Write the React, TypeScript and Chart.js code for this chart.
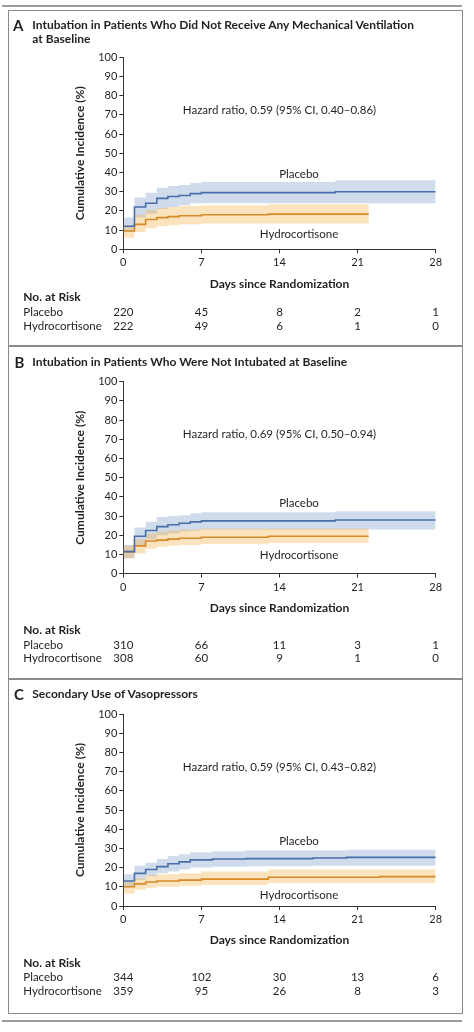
import React, { useEffect, useRef } from "react";
import { Chart, registerables } from "chart.js";

Chart.register(...registerables);

const FONT = "Lato, 'Open Sans', sans-serif";
const TEXT = "#231f20";
const AXIS = "#333333";
const PLACEBO_LINE = "#4a6fa8";
const PLACEBO_BAND = "rgba(110,145,195,0.32)";
const HYDRO_LINE = "#d68a28";
const HYDRO_BAND = "rgba(243,172,62,0.34)";

// ---------- shared axis data ----------
const dayTicks = [0, 7, 14, 21, 28];
const riskLabels = ["Placebo", "Hydrocortisone"];

// ---------- Panel A ----------
const aTitle = ["Intubation in Patients Who Did Not Receive Any Mechanical Ventilation", "at Baseline"];
const aHazard = "Hazard ratio, 0.59 (95% CI, 0.40\u20130.86)";
const aPlaceboDays = [0, 1, 2, 3, 4, 5, 6, 7, 19, 28];
const aPlaceboRate = [12, 22, 24, 26.5, 27.5, 28, 29, 29.5, 30, 30];
const aPlaceboUpper = [16.5, 27, 29.5, 32, 33, 33.5, 34.5, 35, 36, 36];
const aPlaceboLower = [9, 16.5, 18.5, 21, 22, 23, 24, 24, 24, 24];
const aHydroDays = [0, 1, 2, 3, 4, 5, 7, 13, 22];
const aHydroRate = [9.5, 13, 15.5, 16.5, 17, 17.5, 18, 18.3, 18.3];
const aHydroUpper = [12.5, 18, 20.5, 21.5, 22, 22.5, 23, 23.5, 23.5];
const aHydroLower = [6, 9, 11, 12, 12.5, 13, 13.5, 13.5, 13.5];
const aRiskPlacebo = [220, 45, 8, 2, 1];
const aRiskHydro = [222, 49, 6, 1, 0];

// ---------- Panel B ----------
const bTitle = ["Intubation in Patients Who Were Not Intubated at Baseline"];
const bHazard = "Hazard ratio, 0.69 (95% CI, 0.50\u20130.94)";
const bPlaceboDays = [0, 1, 2, 3, 4, 5, 6, 7, 19, 28];
const bPlaceboRate = [11.5, 19.5, 22.5, 24.5, 25.5, 26.3, 27, 27.5, 28, 28];
const bPlaceboUpper = [15, 24, 27, 29.5, 30, 30.5, 31.5, 32, 32.5, 32.5];
const bPlaceboLower = [8, 15, 18, 20, 21, 22, 22.5, 23, 23, 23];
const bHydroDays = [0, 1, 2, 3, 4, 5, 7, 13, 22];
const bHydroRate = [11.5, 14.5, 17, 17.5, 18, 18.5, 19, 19.5, 19.5];
const bHydroUpper = [14.5, 18, 21, 22, 22.5, 23, 23.5, 23.5, 23.5];
const bHydroLower = [8, 10.5, 13, 14, 14.5, 15, 15.5, 16, 16];
const bRiskPlacebo = [310, 66, 11, 3, 1];
const bRiskHydro = [308, 60, 9, 1, 0];

// ---------- Panel C ----------
const cTitle = ["Secondary Use of Vasopressors"];
const cHazard = "Hazard ratio, 0.59 (95% CI, 0.43\u20130.82)";
const cPlaceboDays = [0, 1, 2, 3, 4, 5, 6, 8, 11, 17, 20, 28];
const cPlaceboRate = [13, 17, 19, 20.5, 22, 23, 24, 24.5, 24.7, 25, 25.3, 25.3];
const cPlaceboUpper = [16.5, 21, 22.5, 24.5, 26, 27, 28, 28.5, 29, 29, 29.3, 29.3];
const cPlaceboLower = [10, 13.5, 15.5, 17, 18, 19, 20, 20.5, 20.7, 21, 21, 21];
const cHydroDays = [0, 1, 2, 3, 5, 7, 13, 23, 28];
const cHydroRate = [10, 11.5, 12.5, 13, 13.5, 14, 15, 15.3, 15.3];
const cHydroUpper = [12.5, 14.5, 16, 16.5, 17, 18, 19, 19, 19];
const cHydroLower = [6.5, 8.5, 9.5, 10, 10.5, 11, 12, 12, 12];
const cRiskPlacebo = [344, 102, 30, 13, 6];
const cRiskHydro = [359, 95, 26, 8, 3];

type Series = { days: number[]; rate: number[]; upper: number[]; lower: number[] };
type Panel = {
  letter: string;
  title: string[];
  hazard: string;
  placebo: Series;
  hydro: Series;
  riskPlacebo: number[];
  riskHydro: number[];
  // label anchor positions in data units (day, %)
  hazardAt: [number, number];
  placeboAt: [number, number];
  hydroAt: [number, number];
  // layout (page px)
  top: number;
  height: number;
  titleY: number;
  letterX: number;
  plotTop: number;
  plotBottom: number;
  xTitleY: number;
  riskY: [number, number, number];
};

const panels: Panel[] = [
  {
    letter: "A",
    title: aTitle,
    hazard: aHazard,
    placebo: { days: aPlaceboDays, rate: aPlaceboRate, upper: aPlaceboUpper, lower: aPlaceboLower },
    hydro: { days: aHydroDays, rate: aHydroRate, upper: aHydroUpper, lower: aHydroLower },
    riskPlacebo: aRiskPlacebo,
    riskHydro: aRiskHydro,
    hazardAt: [14, 72.5],
    placeboAt: [15.75, 39.2],
    hydroAt: [15.75, 8],
    top: 0,
    height: 340,
    titleY: 25,
    letterX: 13,
    plotTop: 57.3,
    plotBottom: 249.3,
    xTitleY: 284,
    riskY: [297.3, 312.3, 326],
  },
  {
    letter: "B",
    title: bTitle,
    hazard: bHazard,
    placebo: { days: bPlaceboDays, rate: bPlaceboRate, upper: bPlaceboUpper, lower: bPlaceboLower },
    hydro: { days: bHydroDays, rate: bHydroRate, upper: bHydroUpper, lower: bHydroLower },
    riskPlacebo: bRiskPlacebo,
    riskHydro: bRiskHydro,
    hazardAt: [14, 72.6],
    placeboAt: [15.75, 36.7],
    hydroAt: [15.75, 9.7],
    top: 340,
    height: 338,
    titleY: 361.7,
    letterX: 14.5,
    plotTop: 381.7,
    plotBottom: 573.7,
    xTitleY: 607.7,
    riskY: [630, 645, 658.3],
  },
  {
    letter: "C",
    title: cTitle,
    hazard: cHazard,
    placebo: { days: cPlaceboDays, rate: cPlaceboRate, upper: cPlaceboUpper, lower: cPlaceboLower },
    hydro: { days: cHydroDays, rate: cHydroRate, upper: cHydroUpper, lower: cHydroLower },
    riskPlacebo: cRiskPlacebo,
    riskHydro: cRiskHydro,
    hazardAt: [14, 72.5],
    placeboAt: [15.75, 33.5],
    hydroAt: [15.75, 5.6],
    top: 678,
    height: 354,
    titleY: 694,
    letterX: 14,
    plotTop: 714,
    plotBottom: 906,
    xTitleY: 940,
    riskY: [962.7, 977.3, 991],
  },
];

const PLOT_LEFT = 123.3;
const PLOT_RIGHT = 435.7;
const Y_TITLE_X = 80;
const TITLE_FONT = 12;
const TITLE_LH = TITLE_FONT * 1.2;

function pts(days: number[], vals: number[]) {
  return days.map((d, i) => ({ x: d, y: vals[i] }));
}

function makeTextPlugin(p: Panel) {
  return {
    id: "kmText" + p.letter,
    afterDraw(chart: any) {
      const { ctx } = chart;
      const xs = chart.scales.x;
      const ys = chart.scales.y;
      const off = p.top;
      ctx.save();
      ctx.fillStyle = TEXT;
      ctx.textBaseline = "middle";
      ctx.textAlign = "center";
      ctx.font = `11.5px ${FONT}`;
      ctx.fillText(p.hazard, xs.getPixelForValue(p.hazardAt[0]), ys.getPixelForValue(p.hazardAt[1]));
      ctx.fillText("Placebo", xs.getPixelForValue(p.placeboAt[0]), ys.getPixelForValue(p.placeboAt[1]));
      ctx.fillText("Hydrocortisone", xs.getPixelForValue(p.hydroAt[0]), ys.getPixelForValue(p.hydroAt[1]));

      // at-risk table
      ctx.textAlign = "left";
      ctx.font = `bold 12px ${FONT}`;
      ctx.fillText("No. at Risk", 23.3, p.riskY[0] - off);
      ctx.font = `11.5px ${FONT}`;
      ctx.fillText(riskLabels[0], 23.3, p.riskY[1] - off);
      ctx.fillText(riskLabels[1], 23.3, p.riskY[2] - off);
      ctx.textAlign = "center";
      dayTicks.forEach((d, i) => {
        const x = xs.getPixelForValue(d);
        ctx.fillText(String(p.riskPlacebo[i]), x, p.riskY[1] - off);
        ctx.fillText(String(p.riskHydro[i]), x, p.riskY[2] - off);
      });
      ctx.restore();
    },
  };
}

function KMPanel({ p }: { p: Panel }) {
  const ref = useRef<HTMLCanvasElement | null>(null);
  useEffect(() => {
    if (!ref.current) return;
    const yWidth = PLOT_LEFT - (Y_TITLE_X - TITLE_LH / 2);
    const padLeft = PLOT_LEFT - yWidth;
    const xBottom = p.xTitleY + TITLE_LH / 2;
    const xHeight = xBottom - p.plotBottom;
    const padBottom = p.top + p.height - xBottom;
    const line = (s: Series, color: string, label: string) => ({
      label,
      data: pts(s.days, s.rate),
      borderColor: color,
      borderWidth: 1.6,
      pointRadius: 0,
      stepped: "before" as const,
      fill: false,
      order: 0,
    });
    const band = (s: Series, color: string, label: string, order: number) => [
      {
        label: label + " upper",
        data: pts(s.days, s.upper),
        borderWidth: 0,
        borderColor: "rgba(0,0,0,0)",
        backgroundColor: color,
        pointRadius: 0,
        stepped: "before" as const,
        fill: "+1",
        order,
      },
      {
        label: label + " lower",
        data: pts(s.days, s.lower),
        borderWidth: 0,
        borderColor: "rgba(0,0,0,0)",
        pointRadius: 0,
        stepped: "before" as const,
        fill: false,
        order,
      },
    ];
    const chart = new Chart(ref.current, {
      type: "line",
      data: {
        datasets: [
          line(p.placebo, PLACEBO_LINE, "Placebo"),
          line(p.hydro, HYDRO_LINE, "Hydrocortisone"),
          ...band(p.placebo, PLACEBO_BAND, "Placebo", 2),
          ...band(p.hydro, HYDRO_BAND, "Hydrocortisone", 1),
        ] as any,
      },
      options: {
        responsive: false,
        animation: false,
        events: [],
        layout: {
          padding: {
            left: padLeft,
            right: 474 - PLOT_RIGHT,
            top: p.plotTop - p.top,
            bottom: padBottom,
          },
        },
        plugins: {
          legend: { display: false },
          tooltip: { enabled: false },
        },
        scales: {
          x: {
            type: "linear",
            min: 0,
            max: 28,
            afterBuildTicks: (s: any) => {
              s.ticks = dayTicks.map((v) => ({ value: v }));
            },
            afterFit: (s: any) => {
              s.height = xHeight;
            },
            ticks: {
              font: { family: FONT, size: 11 },
              color: TEXT,
              padding: 3,
              maxRotation: 0,
            },
            grid: { drawOnChartArea: false, drawTicks: true, tickLength: 4, color: AXIS, lineWidth: 1 },
            border: { display: true, color: AXIS, width: 1 },
            title: {
              display: true,
              text: "Days since Randomization",
              font: { family: FONT, size: TITLE_FONT, weight: "bold" },
              color: TEXT,
              padding: 0,
            },
          },
          y: {
            type: "linear",
            min: 0,
            max: 100,
            afterFit: (s: any) => {
              s.width = yWidth;
            },
            ticks: {
              stepSize: 10,
              font: { family: FONT, size: 11 },
              color: TEXT,
              padding: 2,
            },
            grid: { drawOnChartArea: false, drawTicks: true, tickLength: 4, color: AXIS, lineWidth: 1 },
            border: { display: true, color: AXIS, width: 1 },
            title: {
              display: true,
              text: "Cumulative Incidence (%)",
              font: { family: FONT, size: TITLE_FONT, weight: "bold" },
              color: TEXT,
              padding: 0,
            },
          },
        },
      } as any,
      plugins: [makeTextPlugin(p)],
    });
    return () => chart.destroy();
  }, [p]);

  return (
    <>
      <canvas
        ref={ref}
        width={474}
        height={p.height}
        style={{ position: "absolute", left: 0, top: p.top, width: 474, height: p.height }}
      />
      <div
        style={{
          position: "absolute",
          left: p.letterX,
          top: p.titleY - 9,
          height: 18,
          lineHeight: "18px",
          fontFamily: FONT,
          fontWeight: 700,
          fontSize: 15,
          color: TEXT,
        }}
      >
        {p.letter}
      </div>
      <div
        style={{
          position: "absolute",
          left: 32.3,
          top: p.titleY - 7.2,
          lineHeight: "14.4px",
          fontFamily: FONT,
          fontWeight: 700,
          fontSize: 12,
          color: TEXT,
          whiteSpace: "nowrap",
        }}
      >
        {p.title.map((t, i) => (
          <div key={i}>{t}</div>
        ))}
      </div>
    </>
  );
}

export default function App() {
  useEffect(() => {
    document.body.style.margin = "0";
    document.body.style.background = "#ffffff";
  }, []);
  const rule = "#9a9a9a";
  const frame = "#8a8a8a";
  return (
    <div style={{ position: "relative", width: 474, height: 1032, overflow: "hidden", background: "#fff" }}>
      <div style={{ position: "absolute", left: 2, top: 5, width: 460, height: 1.5, background: rule }} />
      <div
        style={{
          position: "absolute",
          left: 8,
          top: 10,
          width: 454.5,
          height: 1004,
          border: `1.5px solid ${frame}`,
          boxSizing: "border-box",
        }}
      />
      <div style={{ position: "absolute", left: 8, top: 345, width: 454.5, height: 1.5, background: frame }} />
      <div style={{ position: "absolute", left: 8, top: 678, width: 454.5, height: 1.5, background: frame }} />
      <div style={{ position: "absolute", left: 2, top: 1020, width: 460, height: 1.5, background: rule }} />
      {panels.map((p) => (
        <KMPanel key={p.letter} p={p} />
      ))}
    </div>
  );
}
